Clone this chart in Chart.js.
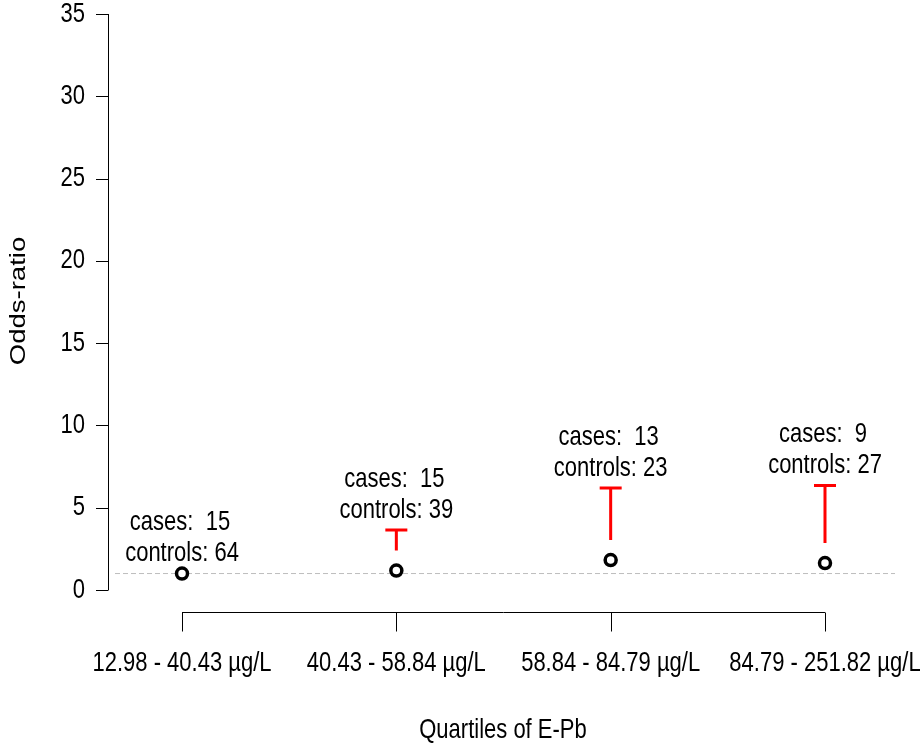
<!DOCTYPE html>
<html>
<head>
<meta charset="utf-8">
<script src="https://cdn.jsdelivr.net/npm/chart.js@4"></script>
<style>
html,body{margin:0;padding:0;background:#fff;}
#wrap{width:924px;height:745px;}
</style>
</head>
<body>
<div id="wrap"><canvas id="c" width="924" height="745"></canvas></div>
<script>
// ---- data ----
const quartiles = ["12.98 - 40.43 \u00b5g/L", "40.43 - 58.84 \u00b5g/L", "58.84 - 84.79 \u00b5g/L", "84.79 - 251.82 \u00b5g/L"];
const oddsRatio = [1.0, 1.18, 1.82, 1.64];
const upperCI = [null, 3.65, 6.2, 6.35];
const cases = [15, 15, 13, 9];
const controls = [64, 39, 23, 27];
const yTicks = [0, 5, 10, 15, 20, 25, 30, 35];
const refValue = 1;
const xTitle = "Quartiles of E-Pb";
const yTitle = "Odds-ratio";

const FONT = '22px "Liberation Sans", Arial, sans-serif';
const STRETCH = 1.25;

const points = oddsRatio.map((v, i) => ({x: i + 1, y: v}));

function txt(ctx, s, x, y, align) {
  ctx.save();
  ctx.translate(x, y);
  ctx.scale(1, STRETCH);
  ctx.textAlign = align || 'center';
  ctx.textBaseline = 'middle';
  ctx.fillText(s, 0, 0);
  ctx.restore();
}

const customPlugin = {
  id: 'rstyle',
  beforeDatasetsDraw(chart) {
    const {ctx, chartArea, scales} = chart;
    const y = scales.y.getPixelForValue(refValue);
    ctx.save();
    ctx.strokeStyle = '#bdbdbd';
    ctx.lineWidth = 1;
    ctx.setLineDash([5, 3]);
    ctx.beginPath();
    ctx.moveTo(chartArea.left + 7, y);
    ctx.lineTo(chartArea.right - 3, y);
    ctx.stroke();
    ctx.restore();
  },
  afterDatasetsDraw(chart) {
    const {ctx, chartArea, scales} = chart;
    const xs = scales.x, ys = scales.y;
    ctx.save();
    // error bars
    ctx.strokeStyle = '#ff0000';
    ctx.lineWidth = 3;
    ctx.setLineDash([]);
    oddsRatio.forEach((v, i) => {
      if (upperCI[i] == null) return;
      const px = xs.getPixelForValue(i + 1);
      const py = ys.getPixelForValue(v);
      const pu = ys.getPixelForValue(upperCI[i]);
      ctx.beginPath();
      ctx.moveTo(px, py - 20);
      ctx.lineTo(px, pu);
      ctx.moveTo(px - 11, pu);
      ctx.lineTo(px + 11, pu);
      ctx.stroke();
    });
    // annotations
    ctx.fillStyle = '#000';
    ctx.font = FONT;
    oddsRatio.forEach((v, i) => {
      const px = xs.getPixelForValue(i + 1);
      const top = ys.getPixelForValue(upperCI[i] == null ? v : Math.max(v, upperCI[i]));
      txt(ctx, 'controls: ' + controls[i], px, top - 20);
      txt(ctx, 'cases:  ' + cases[i], px - 2, top - 51);
    });

    // y axis
    ctx.strokeStyle = '#000';
    ctx.lineWidth = 1;
    const ax = chartArea.left;
    const yTop = ys.getPixelForValue(yTicks[yTicks.length - 1]);
    const yBot = ys.getPixelForValue(yTicks[0]);
    ctx.beginPath();
    ctx.moveTo(ax + 0.5, yTop);
    ctx.lineTo(ax + 0.5, yBot);
    yTicks.forEach(t => {
      const py = Math.round(ys.getPixelForValue(t)) + 0.5;
      ctx.moveTo(ax - 12, py);
      ctx.lineTo(ax + 0.5, py);
    });
    ctx.stroke();
    yTicks.forEach(t => {
      txt(ctx, String(t), ax - 23, ys.getPixelForValue(t), 'right');
    });

    // x axis
    const axY = chartArea.bottom + 22.5;
    const x0 = xs.getPixelForValue(1), x1 = xs.getPixelForValue(quartiles.length);
    ctx.beginPath();
    ctx.moveTo(x0, axY);
    ctx.lineTo(x1, axY);
    quartiles.forEach((q, i) => {
      const px = Math.round(xs.getPixelForValue(i + 1)) + 0.5;
      ctx.moveTo(px, axY);
      ctx.lineTo(px, axY + 19);
    });
    ctx.stroke();
    quartiles.forEach((q, i) => {
      txt(ctx, q, xs.getPixelForValue(i + 1), chartArea.bottom + 73);
    });

    // titles
    txt(ctx, xTitle, (chartArea.left + chartArea.right) / 2, chartArea.bottom + 140);
    ctx.save();
    ctx.translate(19, 301);
    ctx.rotate(-Math.PI / 2);
    ctx.scale(STRETCH, 1);
    ctx.textAlign = 'center';
    ctx.textBaseline = 'middle';
    ctx.fillText(yTitle, 0, 0);
    ctx.restore();
    ctx.restore();
  }
};

new Chart(document.getElementById('c'), {
  type: 'scatter',
  data: {
    datasets: [{
      data: points,
      pointStyle: 'circle',
      pointRadius: 5.5,
      pointHoverRadius: 5.5,
      pointBorderWidth: 3.5,
      pointHoverBorderWidth: 3.5,
      borderColor: '#000',
      backgroundColor: '#fff',
      showLine: false
    }]
  },
  options: {
    responsive: false,
    animation: false,
    events: [],
    layout: {padding: {left: 108, top: 14, right: 26, bottom: 155}},
    plugins: {legend: {display: false}, tooltip: {enabled: false}},
    scales: {
      x: {type: 'linear', min: 0.6547, max: 4.3406, display: false},
      y: {type: 'linear', min: 0, max: 35, display: false}
    }
  },
  plugins: [customPlugin]
});
</script>
</body>
</html>
